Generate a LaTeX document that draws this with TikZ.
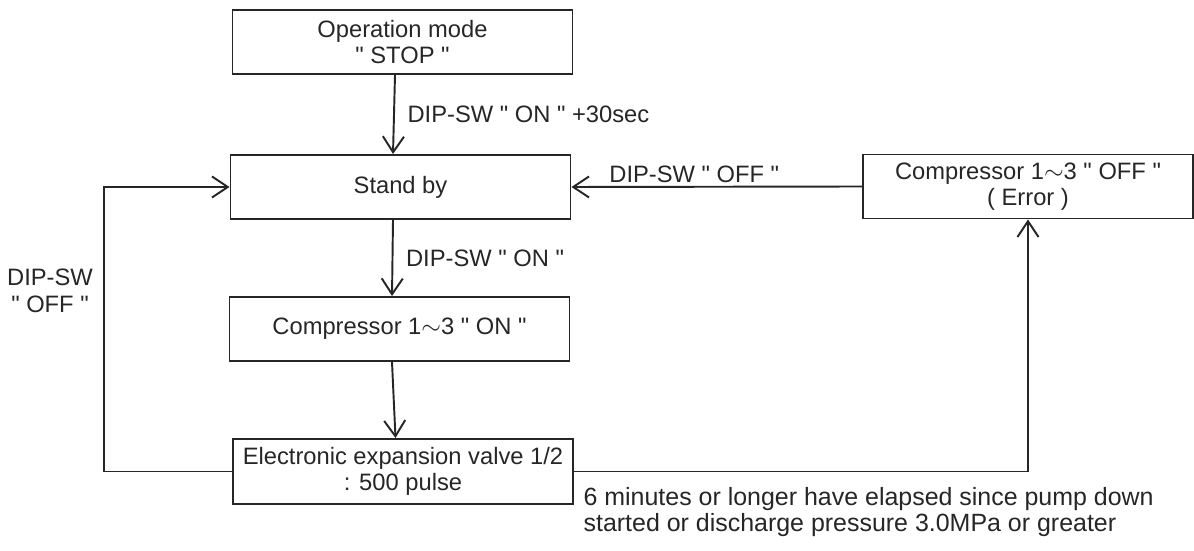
\documentclass[tikz,border=0pt]{standalone}
\usepackage{fontspec}
\setmainfont{Liberation Sans}[Ligatures=TeXOff]
\usetikzlibrary{calc,arrows.meta}
\usetikzlibrary{positioning}

\begin{document}
\begin{tikzpicture}[
  blk/.style={draw, rectangle, minimum width=6.8cm, minimum height=1.28cm, align=center, inner sep=1pt},
  lbl/.style={align=center, inner sep=1.5pt},
  >={Straight Barb[length=9pt,width=12pt]},
  line width=1.1pt, color=black!85,
  font=\fontsize{13.5}{15}\selectfont]
\useasboundingbox (0,0) rectangle (23.88,11);
\node[blk](stop) at (8.05,10.16){Operation mode\\" STOP "};
\node[blk](standby) at (8.01,7.26){Stand by};
\node[blk](comp) at (7.99,4.42){Compressor 1$\sim$3 " ON "};
\node[blk, minimum height=1.3cm](eev) at (8.06,1.57){Electronic expansion valve 1/2\\: 500 pulse};
\node[blk, minimum width=6.6cm](err) at (20.56,7.27){Compressor 1$\sim$3 " OFF "\\( Error )};
\coordinate (lp) at (2.08,0);
\draw[->] ([xshift=-0.15cm]stop.south) -- ([xshift=-0.15cm]standby.north) node[midway, right=0.2cm, lbl]{DIP-SW " ON " +30sec};
\draw[->] ([xshift=-0.15cm]standby.south) -- ([xshift=-0.15cm]comp.north) node[midway, right=0.2cm, lbl]{DIP-SW " ON "};
\draw[->] ([xshift=-0.15cm]comp.south) -- ([xshift=-0.15cm]eev.north);
\draw[->] (eev.west) -| (lp |- standby.west) -- (standby.west);
\draw[->] (eev.east) -| (err.south);
\draw[->] (err.west) -- (standby.east) node[midway, above, lbl, xshift=-0.45cm]{DIP-SW " OFF "};
\node[lbl](offlbl) at (1.0,5.18){DIP-SW\\" OFF "};
\node[lbl, align=left, anchor=west, font=\fontsize{14.2}{15}\selectfont](note) at (11.6,0.76){6 minutes or longer have elapsed since pump down\\started or discharge pressure 3.0MPa or greater};
\end{tikzpicture}
\end{document}
